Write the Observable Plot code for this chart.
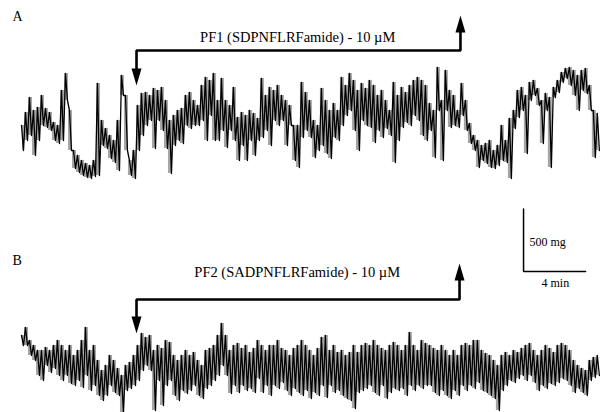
<!DOCTYPE html>
<html>
<head>
<meta charset="utf-8">
<script src="https://cdn.jsdelivr.net/npm/d3@7"></script>
<script src="https://cdn.jsdelivr.net/npm/@observablehq/plot@0.6"></script>
<style>
  html, body { margin: 0; padding: 0; background: #fff; }
  #chart svg { display: block; }
</style>
</head>
<body>
<div id="chart"></div>
<script>
// ---- Data ----
// Sampling interval of the digitised traces (minutes)
const sampleMin = 0.258;

// Trace A: upper / lower envelope of tension (mg, relative)
const traceA_hi = [480,584,704,600,624,720,616,584,504,480,
  760,896,600,280,240,200,176,160,200,816,
  520,456,400,360,520,880,720,200,280,640,
  736,744,720,776,760,784,680,520,560,600,
  616,720,744,680,640,800,864,840,896,680,
  856,680,640,784,544,584,560,600,576,536,
  856,720,784,760,800,720,680,640,480,480,
  824,744,680,520,480,776,680,600,656,600,
  864,800,896,840,760,816,776,840,800,720,
  760,680,600,824,720,784,744,800,840,864,
  840,800,656,600,944,680,920,760,720,600,
  816,680,496,400,360,320,336,360,280,320,
  480,360,536,600,760,784,720,824,840,776,
  680,736,704,784,840,904,936,944,920,880,
  920,936,800,600,576];
const traceA_lo = [280,360,400,240,360,480,464,440,360,336,
  360,680,280,136,104,80,64,56,72,80,
  320,296,216,184,120,720,280,80,56,280,
  400,480,520,296,520,440,296,96,320,360,
  336,480,456,480,480,520,360,560,360,360,
  440,304,440,360,200,320,200,360,240,360,
  384,440,320,520,480,520,320,480,200,144,
  384,440,384,224,280,320,256,216,384,360,
  480,560,600,440,280,520,480,464,344,440,
  384,456,400,184,360,464,504,480,560,520,
  400,360,440,224,600,200,600,464,480,464,
  560,440,336,280,144,200,176,144,136,160,
  200,184,56,456,544,600,256,680,720,640,
  336,600,144,704,744,824,856,800,720,600,
  760,736,600,224,280];

// Trace B: upper / lower envelope of tension (mg, relative)
const traceB_hi = [640,704,600,560,520,520,544,520,560,600,
  560,520,560,480,520,600,704,520,560,440,
  360,400,480,440,376,320,400,424,480,560,
  656,624,640,520,560,536,600,584,480,440,
  480,520,480,504,440,400,520,536,560,640,
  736,640,520,560,576,536,560,504,536,600,
  560,520,560,560,600,536,520,480,536,560,
  600,560,520,480,536,624,640,520,560,504,
  520,480,504,560,504,560,576,560,600,560,
  536,520,560,584,560,520,560,664,560,520,
  600,576,560,536,520,560,520,480,520,480,
  560,576,560,600,600,520,496,480,440,400,
  480,504,480,520,504,536,560,576,520,480,
  520,560,536,504,560,576,560,520,440,400,
  376,360,440,464,480];
const traceB_lo = [560,560,480,440,320,280,400,344,376,320,
  280,320,256,240,280,224,320,200,240,160,
  120,160,240,184,160,24,200,216,240,280,
  360,400,360,40,280,80,240,280,160,120,
  200,176,200,240,160,136,216,240,280,320,
  400,320,176,240,184,240,200,216,184,296,
  184,240,160,240,216,264,200,160,216,184,
  160,200,136,184,160,240,144,240,184,200,
  160,136,120,56,184,200,216,240,184,160,
  240,136,184,216,200,216,160,240,200,240,
  216,240,240,184,160,200,160,136,200,160,
  240,200,240,216,264,200,184,160,136,40,
  200,240,280,264,296,320,280,320,264,200,
  240,216,256,240,264,296,280,240,184,216,
  184,160,280,304,320];

// Drug application windows (minutes)
const panels = ["A", "B"];
const drugLabels = ["PF1 (SDPNFLRFamide) - 10 \u00b5M", "PF2 (SADPNFLRFamide) - 10 \u00b5M"];
const drugOn = [7.42, 7.42];
const drugOff = [28.32, 28.26];

// Calibration bar
const calTension = 500;   // mg
const calTime = 4;        // min
const calLabels = ["500 mg", "4 min"];

// ---- Layout (chart coordinates: minutes, mg) ----
const offsetA = 1816, offsetB = -24;
const serif = "'Liberation Serif', 'Times New Roman', serif";

function zigzag(hi, lo, offset) {
  return hi.flatMap((h, i) => [
    {t: i * sampleMin, v: h + offset},
    {t: (i + 0.5) * sampleMin, v: lo[i] + offset}
  ]);
}
function envelope(hi, lo, offset) {
  return hi.map((h, i) => ({t: (i + 0.25) * sampleMin, hi: h + offset, lo: lo[i] + offset}));
}
const dataA = zigzag(traceA_hi, traceA_lo, offsetA);
const dataB = zigzag(traceB_hi, traceB_lo, offsetB);
const envA = envelope(traceA_hi, traceA_lo, offsetA);
const envB = envelope(traceB_hi, traceB_lo, offsetB);

// bracket levels (mg in chart space)
const brackets = [
  {on: drugOn[0], off: drugOff[0], level: 2896, down: 2616, up: 3176, textY: 2964, label: drugLabels[0]},
  {on: drugOn[1], off: drugOff[1], level: 904, down: 632, up: 1192, textY: 1088, label: drugLabels[1]}
];

const headDown = {draw(ctx) { ctx.moveTo(0, 0); ctx.lineTo(-5, -17); ctx.lineTo(5, -17); ctx.closePath(); }};
const headUp = {draw(ctx) { ctx.moveTo(0, 0); ctx.lineTo(-5, 17); ctx.lineTo(5, 17); ctx.closePath(); }};

const bracketMarks = brackets.flatMap(b => [
  Plot.line([{t: b.on, v: b.down + 80}, {t: b.on, v: b.level}, {t: b.off, v: b.level}, {t: b.off, v: b.up - 80}],
    {x: "t", y: "v", stroke: "#000", strokeWidth: 2.6, strokeLinejoin: "miter", strokeLinecap: "butt"}),
  Plot.dot([{t: b.on, v: b.down}], {x: "t", y: "v", symbol: headDown, fill: "#000", stroke: null}),
  Plot.dot([{t: b.off, v: b.up}], {x: "t", y: "v", symbol: headUp, fill: "#000", stroke: null}),
  Plot.text([{t: (b.on + b.off) / 2 - 0.05, v: b.textY, s: b.label}],
    {x: "t", y: "v", text: "s", lineAnchor: "bottom", textAnchor: "middle", fontFamily: serif, fontSize: 14.5, fill: "#000"})
]);

const calX = 32.39, calY = 1128;

const chart = Plot.plot({
  width: 601,
  height: 412,
  margin: 0,
  style: {background: "#fff"},
  x: {domain: [-21 / 15.5, 580 / 15.5], axis: null},
  y: {domain: [0, 3296], axis: null},
  marks: [
    Plot.areaY(envA, {x: "t", y1: "lo", y2: "hi", fill: "#000", fillOpacity: 0.35, curve: "step"}),
    Plot.areaY(envB, {x: "t", y1: "lo", y2: "hi", fill: "#000", fillOpacity: 0.35, curve: "step"}),
    Plot.line(dataA, {x: "t", y: "v", stroke: "#000", strokeWidth: 1.3, strokeLinejoin: "round"}),
    Plot.line(dataB, {x: "t", y: "v", stroke: "#000", strokeWidth: 1.3, strokeLinejoin: "round"}),
    ...bracketMarks,
    Plot.text([{t: -0.58, v: 3136, s: panels[0]}, {t: -0.58, v: 1184, s: panels[1]}],
      {x: "t", y: "v", text: "s", lineAnchor: "bottom", textAnchor: "start", fontFamily: serif, fontSize: 14, fill: "#000"}),
    // calibration bar
    Plot.line([{t: calX, v: calY + calTension}, {t: calX, v: calY}, {t: calX + calTime, v: calY}],
      {x: "t", y: "v", stroke: "#000", strokeWidth: 1.5, strokeLinejoin: "miter"}),
    Plot.text([{t: calX + 0.38, v: 1336, s: calLabels[0]}],
      {x: "t", y: "v", text: "s", lineAnchor: "bottom", textAnchor: "start", fontFamily: serif, fontSize: 12, fill: "#000"}),
    Plot.text([{t: calX + calTime / 2 + 0.05, v: 1008, s: calLabels[1]}],
      {x: "t", y: "v", text: "s", lineAnchor: "bottom", textAnchor: "middle", fontFamily: serif, fontSize: 12, fill: "#000"})
  ]
});
document.getElementById("chart").appendChild(chart);
</script>
</body>
</html>
